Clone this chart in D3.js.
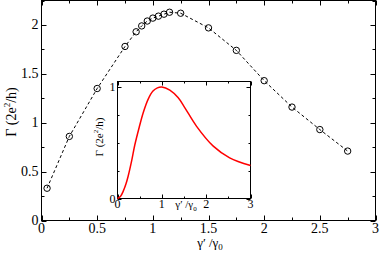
<!DOCTYPE html>
<html>
<head>
<meta charset="utf-8">
<script src="https://cdn.jsdelivr.net/npm/d3@7"></script>
<style>
  body { margin: 0; background: #fff; }
  svg { display: block; }
</style>
</head>
<body>
<svg id="chart" width="382" height="253"></svg>
<script>
// main plot: conductance vs gamma'/gamma0 (open circles, dashed line)
const mainX = [0.05, 0.25, 0.5, 0.75, 0.85, 0.9, 0.95, 1.0, 1.05, 1.1, 1.15, 1.25, 1.5, 1.75, 2.0, 2.25, 2.5, 2.75];
const mainY = [0.33, 0.86, 1.35, 1.78, 1.93, 1.99, 2.04, 2.07, 2.09, 2.11, 2.13, 2.12, 1.97, 1.74, 1.43, 1.16, 0.93, 0.71];
const mainXTicks = [0, 0.5, 1, 1.5, 2, 2.5, 3];
const mainYTicks = [0, 0.5, 1, 1.5, 2];

// inset: normalized curve (red)
const insetX = [0, 0.07, 0.13, 0.19, 0.24, 0.32, 0.39, 0.49, 0.58, 0.69, 0.8, 0.9, 1.0, 1.18, 1.37, 1.52, 1.78, 2.16, 2.53, 3.0];
const insetY = [0, 0.02, 0.066, 0.13, 0.2, 0.34, 0.48, 0.64, 0.77, 0.89, 0.964, 0.993, 1.0, 0.973, 0.904, 0.814, 0.65, 0.47, 0.365, 0.296];
const insetXTicks = [0, 1, 2, 3];
const insetYTicks = [0, 1];

const FONT = '"Liberation Serif", "Times New Roman", "DejaVu Serif", serif';
const svg = d3.select('#chart');

function drawFrame(g, x, y, opt) {
    const [x0, x1] = x.range();
    const [y0, y1] = y.range();
    g.append('rect')
        .attr('x', x0).attr('y', y1)
        .attr('width', x1 - x0).attr('height', y0 - y1)
        .attr('fill', opt.fill || 'none')
        .attr('stroke', '#000').attr('stroke-width', 1);

    // ticks pointing inward, on all four sides
    const ticks = g.append('g').attr('stroke', '#000').attr('stroke-width', 1);
    opt.xMinor.forEach(v => {
        const len = opt.xMajor.includes(v) ? opt.major : opt.minor;
        const px = Math.round(x(v)) + 0.5;
        ticks.append('line').attr('x1', px).attr('x2', px).attr('y1', y0).attr('y2', y0 - len);
        ticks.append('line').attr('x1', px).attr('x2', px).attr('y1', y1).attr('y2', y1 + len);
    });
    opt.yMinor.forEach(v => {
        const len = opt.yMajor.includes(v) ? opt.major : opt.minor;
        const py = Math.round(y(v)) + 0.5;
        ticks.append('line').attr('y1', py).attr('y2', py).attr('x1', x0).attr('x2', x0 + len);
        ticks.append('line').attr('y1', py).attr('y2', py).attr('x1', x1).attr('x2', x1 - len);
    });

    g.selectAll('.xlab')
        .data(opt.xLabels)
        .join('text')
        .attr('x', d => x(d))
        .attr('y', y0 + opt.xLabelDy)
        .attr('text-anchor', 'middle')
        .attr('font-family', FONT)
        .style('font-size', opt.fontSize + 'px')
        .text(d => d3.format('')(d));

    g.selectAll('.ylab')
        .data(opt.yLabels)
        .join('text')
        .attr('x', x0 - opt.yLabelDx)
        .attr('y', d => y(d))
        .attr('text-anchor', 'end')
        .attr('dominant-baseline', 'central')
        .attr('font-family', FONT)
        .style('font-size', opt.fontSize + 'px')
        .text(d => d3.format('')(d));
}

function axisTitle(g, px, py, size, rotate) {
    return g.append('text')
        .attr('transform', `translate(${px},${py})` + (rotate ? ' rotate(-90)' : ''))
        .attr('text-anchor', 'middle')
        .attr('font-family', FONT)
        .style('font-size', size + 'px');
}

// ---- main plot ----
const x = d3.scaleLinear().domain([0, 3]).range([41.5, 375.5]);
const y = d3.scaleLinear().domain([0, 2.25]).range([220.5, 0.5]);

const main = svg.append('g');
drawFrame(main, x, y, {
    xMinor: d3.range(0, 3.01, 0.25).map(v => +v.toFixed(2)),
    xMajor: mainXTicks,
    yMinor: d3.range(0, 2.26, 0.25).map(v => +v.toFixed(2)),
    yMajor: mainYTicks,
    xLabels: mainXTicks,
    yLabels: mainYTicks,
    major: 5, minor: 3,
    fontSize: 14, xLabelDy: 12, yLabelDx: 3
});

const mainPts = mainX.map((d, i) => [d, mainY[i]]);
main.append('path')
    .datum(mainPts)
    .attr('fill', 'none')
    .attr('stroke', '#000')
    .attr('stroke-width', 1)
    .attr('stroke-dasharray', '3,2.5')
    .attr('d', d3.line().x(d => x(d[0])).y(d => y(d[1])));

main.selectAll('circle')
    .data(mainPts)
    .join('circle')
    .attr('cx', d => x(d[0]))
    .attr('cy', d => y(d[1]))
    .attr('r', 3.2)
    .attr('fill', 'none')
    .attr('stroke', '#000')
    .attr('stroke-width', 1);

// axis titles
const yt = axisTitle(main, 16, 112, 14, true);
yt.append('tspan').text('Γ (2e');
yt.append('tspan').attr('dy', -6).style('font-size', '9px').text('2');
yt.append('tspan').attr('dy', 6).text('/h)');

const xt = axisTitle(main, 210, 247, 13, false);
xt.append('tspan').text('γ\u2032 /γ');
xt.append('tspan').attr('dy', 3).style('font-size', '9px').text('0');

// ---- inset ----
const ix = d3.scaleLinear().domain([0, 3]).range([117.5, 250.5]);
const iy = d3.scaleLinear().domain([0, 1.05]).range([198.5, 81.5]);

const inset = svg.append('g');
drawFrame(inset, ix, iy, {
    fill: '#fff',
    xMinor: d3.range(0, 3.01, 0.5).map(v => +v.toFixed(2)),
    xMajor: insetXTicks,
    yMinor: d3.range(0, 1.01, 0.25).map(v => +v.toFixed(2)),
    yMajor: insetYTicks,
    xLabels: insetXTicks,
    yLabels: insetYTicks,
    major: 4, minor: 2,
    fontSize: 12, xLabelDy: 9.5, yLabelDx: 2
});

inset.append('path')
    .datum(insetX.map((d, i) => [d, insetY[i]]))
    .attr('fill', 'none')
    .attr('stroke', '#ff0000')
    .attr('stroke-width', 1.5)
    .attr('d', d3.line().x(d => ix(d[0])).y(d => iy(d[1])).curve(d3.curveCatmullRom));

const iyt = axisTitle(inset, 103, 137, 11, true);
iyt.append('tspan').text('Γ (2e');
iyt.append('tspan').attr('dy', -5).style('font-size', '7px').text('2');
iyt.append('tspan').attr('dy', 5).text('/h)');

const ixt = axisTitle(inset, 186, 208, 11, false);
ixt.append('tspan').text('γ\u2032 /γ');
ixt.append('tspan').attr('dy', 3).style('font-size', '7px').text('0');
</script>
</body>
</html>
